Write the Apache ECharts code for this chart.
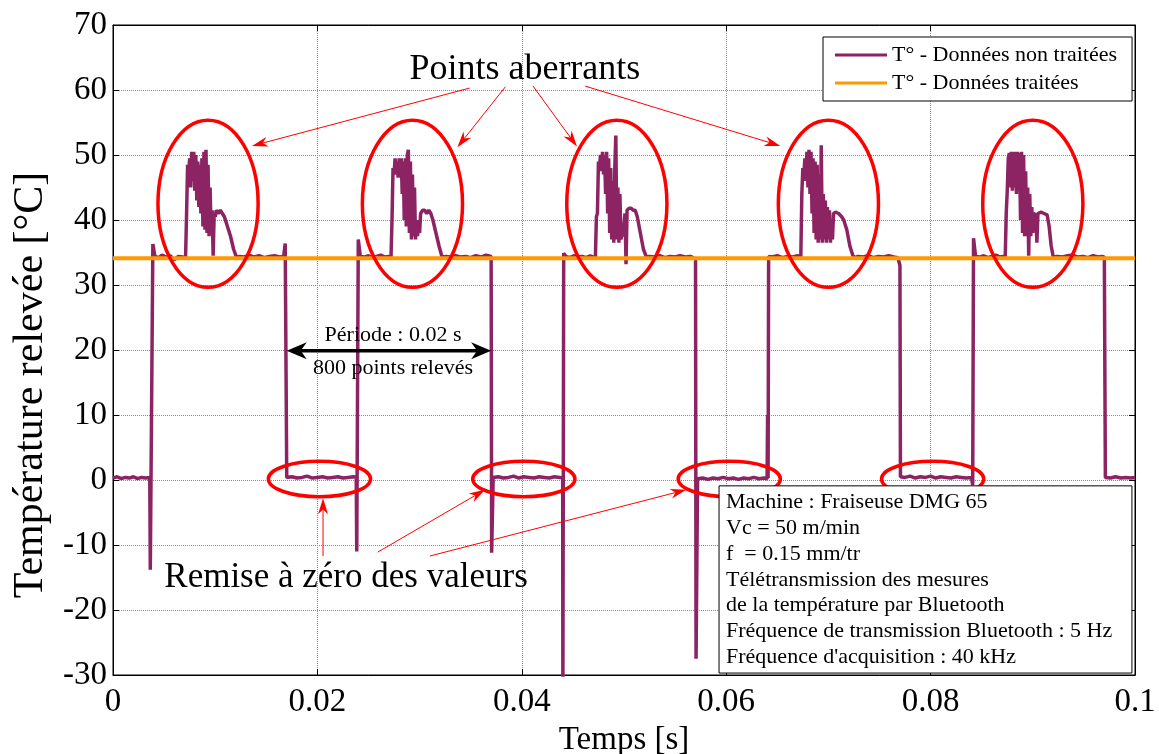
<!DOCTYPE html>
<html><head><meta charset="utf-8">
<script src="https://cdn.jsdelivr.net/npm/echarts@6/dist/echarts.min.js"></script>
<style>html,body{margin:0;padding:0;background:#fff}#c{width:1159px;height:754px}</style>
</head><body><div id="c"></div>
<script>
// ---------- DATA (time in s, temperature in °C) ----------
const xTicks = [0, 0.02, 0.04, 0.06, 0.08, 0.1];
const yTicks = [-30, -20, -10, 0, 10, 20, 30, 40, 50, 60, 70];

const lead = [[0.0000,0.3],[0.0004,0.5],[0.0008,0.2],[0.0012,0.4],[0.0016,0.3],[0.0020,0.5],[0.0024,0.2],[0.0028,0.4],[0.0032,0.3],[0.0036,0.4],[0.00365,-13.8],[0.0039,36.3],[0.0041,34.4],[0.0045,34.2],[0.0048,34.6],[0.0052,34.3],[0.0056,34.5],[0.0060,33.9],[0.0064,34.4],[0.0068,34.3]];
const burst1 = [[0.0071,34.2],[0.0072,41],[0.0073,48.5],[0.0074,47],[0.0075,49.5],[0.0076,45],[0.0077,50.5],[0.0078,46],[0.0079,50.5],[0.0080,44.5],[0.0081,50],[0.0082,43],[0.0083,49],[0.0084,42],[0.0085,48.5],[0.0086,41],[0.0087,49.5],[0.0088,39],[0.0089,50.5],[0.0090,38.5],[0.0091,50.8],[0.0092,38],[0.0093,48.5],[0.0094,37.5],[0.0095,45],[0.0096,38],[0.0097,41.5],[0.0098,34.5],[0.0099,41],[0.0100,40.5],[0.0101,41.5],[0.0103,41],[0.0105,41.5],[0.0107,41],[0.0109,40.5],[0.0112,39],[0.0115,37.5],[0.0118,35.5],[0.0121,34.2]];
const gap1 = [[0.0124,34.4],[0.0128,34.3],[0.0133,34.6],[0.0138,34.3],[0.0143,34.5],[0.0148,34.2],[0.0153,34.4],[0.0158,34.5],[0.0163,34.3],[0.0167,34.4],[0.01685,36.4],[0.0170,0.4],[0.0175,0.5],[0.0180,0.3],[0.0185,0.4],[0.0190,0.6],[0.0195,0.3],[0.0200,0.4],[0.0205,0.5],[0.0210,0.3],[0.0215,0.4],[0.0220,0.5],[0.0225,0.3],[0.0230,0.4],[0.0235,0.5],[0.0238,0.4],[0.02385,-11],[0.0240,37],[0.0242,34.4],[0.0246,34.3],[0.0250,34.5],[0.0254,34.2],[0.0258,34.4],[0.0262,34.6],[0.0266,34.3],[0.0270,34.4]];
const burst2 = [[0.0272,34.2],[0.0273,40],[0.0274,48],[0.0275,47],[0.0276,49.5],[0.0277,47],[0.0278,49],[0.0279,46.5],[0.0280,49.5],[0.0281,47],[0.0282,49.5],[0.0283,44],[0.0284,49],[0.0285,40],[0.0286,49.5],[0.0287,39],[0.0288,50],[0.0289,50.8],[0.0290,38],[0.0291,49],[0.0292,37],[0.0293,47],[0.0294,37.5],[0.0295,45],[0.0296,37],[0.0297,40],[0.0298,37.5],[0.0299,40],[0.0300,38],[0.0301,41],[0.0303,41.5],[0.0305,41.5],[0.0307,41],[0.0309,41.5],[0.0311,41],[0.0313,40],[0.0316,38],[0.0319,36],[0.0322,34.3]];
const gap2 = [[0.0326,34.4],[0.0330,34.3],[0.0335,34.5],[0.0340,34.3],[0.0345,34.4],[0.0350,34.2],[0.0355,34.5],[0.0360,34.3],[0.0365,34.6],[0.0370,34.4],[0.03705,-11.2],[0.0372,0.4],[0.0377,0.5],[0.0382,0.3],[0.0387,0.4],[0.0392,0.6],[0.0397,0.3],[0.0402,0.5],[0.0407,0.4],[0.0412,0.3],[0.0417,0.5],[0.0422,0.4],[0.0427,0.3],[0.0432,0.5],[0.0437,0.4],[0.0440,0.3],[0.04402,-33],[0.0441,34.9],[0.0443,34.4],[0.0447,34.2],[0.0451,34.5],[0.0455,34.3],[0.0459,34.4],[0.0463,34.2],[0.0467,34.5],[0.0470,34.3]];
const burst3 = [[0.0472,34.2],[0.0473,40.5],[0.0474,41],[0.0475,49],[0.0476,48],[0.0477,50],[0.0478,47.5],[0.0479,50.5],[0.0480,47],[0.0481,50],[0.0482,44],[0.0483,50.5],[0.0484,41],[0.0485,49.5],[0.0486,38],[0.0487,48],[0.0488,37],[0.0489,46],[0.0490,36.5],[0.0491,48],[0.0492,53],[0.0493,37],[0.0494,45],[0.0495,36.5],[0.0496,44],[0.0497,37],[0.0498,38],[0.0499,37.5],[0.0501,41],[0.0502,33.2],[0.0503,41.5],[0.0505,41.8],[0.0507,41.8],[0.0509,41.5],[0.0511,41.5],[0.0513,40.5],[0.0516,38],[0.0519,35.5],[0.0522,34.3]];
const gap3 = [[0.0525,34.4],[0.0530,34.3],[0.0535,34.5],[0.0540,34.2],[0.0545,34.4],[0.0550,34.3],[0.0555,34.5],[0.0560,34.3],[0.0565,34.4],[0.0570,34.0],[0.05705,-27.5],[0.0572,0.2],[0.0577,0.3],[0.0582,0.1],[0.0587,0.3],[0.0592,0.2],[0.0597,0.4],[0.0602,0.2],[0.0607,0.3],[0.0612,0.1],[0.0617,0.3],[0.0622,0.2],[0.0627,0.4],[0.0632,0.2],[0.0637,0.3],[0.0640,0.2],[0.06405,10],[0.0641,0.3],[0.06415,34.4],[0.0645,34.3],[0.0650,34.5],[0.0655,34.2],[0.0660,34.4],[0.0665,34.3],[0.0670,34.5]];
const burst4 = [[0.0673,34.2],[0.0674,44],[0.0675,48],[0.0676,47],[0.0677,49.5],[0.0678,46],[0.0679,50.5],[0.0680,45],[0.0681,50.8],[0.0682,44],[0.0683,50.5],[0.0684,41],[0.0685,49.5],[0.0686,38],[0.0687,49],[0.0688,37],[0.0689,48.5],[0.0690,36.5],[0.0691,47],[0.0692,37],[0.0693,51.5],[0.0694,36.5],[0.0695,44],[0.0696,37],[0.0697,43],[0.0698,36.5],[0.0699,42],[0.0700,37],[0.0701,41.5],[0.0702,36.5],[0.0703,40],[0.0704,37],[0.0705,41],[0.0707,41.2],[0.0710,41],[0.0713,40.5],[0.0715,40],[0.0718,38.5],[0.0721,36],[0.0724,34.5],[0.0726,34.2]];
const gap4 = [[0.0729,34.4],[0.0734,34.3],[0.0739,34.5],[0.0744,34.2],[0.0749,34.4],[0.0754,34.3],[0.0759,34.5],[0.0764,34.3],[0.0768,34.2],[0.0770,33.0],[0.07705,0.5],[0.0775,0.4],[0.0780,0.6],[0.0785,0.3],[0.0790,0.5],[0.0795,0.4],[0.0800,0.6],[0.0805,0.3],[0.0810,0.5],[0.0815,0.4],[0.0820,0.3],[0.0825,0.5],[0.0830,0.4],[0.0835,0.3],[0.0840,0.4],[0.0841,0.2],[0.08412,-0.8],[0.0842,37.2],[0.0844,34.4],[0.0848,34.3],[0.0852,34.5],[0.0856,34.2],[0.0860,34.4],[0.0864,34.6],[0.0868,34.3],[0.0871,34.4]];
const burst5 = [[0.0873,34.2],[0.0874,41],[0.0875,44.5],[0.0876,49.5],[0.0877,50.3],[0.0878,45],[0.0879,50.5],[0.0880,44.5],[0.0881,50.5],[0.0882,45],[0.0883,50.5],[0.0884,44],[0.0885,50.5],[0.0886,44.5],[0.0887,50.3],[0.0888,40],[0.0889,50.5],[0.0890,38],[0.0891,50],[0.0892,37.5],[0.0893,47.5],[0.0894,37.5],[0.0895,45],[0.0896,34.5],[0.0897,44],[0.0898,37.5],[0.0899,42],[0.0900,38],[0.0901,41],[0.0903,40.8],[0.0904,36.5],[0.0905,41],[0.0908,41.2],[0.0911,41],[0.0914,40.8],[0.0916,39],[0.0918,36],[0.0920,34.3]];
const tail = [[0.0924,34.4],[0.0929,34.3],[0.0934,34.5],[0.0939,34.6],[0.0944,34.3],[0.0949,34.4],[0.0954,34.2],[0.0959,34.5],[0.0964,34.3],[0.0968,34.4],[0.0970,34.3],[0.0971,0.4],[0.0976,0.3],[0.0981,0.5],[0.0986,0.3],[0.0991,0.4],[0.0996,0.3],[0.1000,0.4]];

const treatedTime = [0, 0.1];
const treatedTemp = [34.1, 34.1];

const seriesNames = ['T° - Données non traitées', 'T° - Données traitées'];
const infoLines = ['Machine : Fraiseuse DMG 65', 'Vc = 50 m/min', 'f  = 0.15 mm/tr', 'Télétransmission des mesures', 'de la température par Bluetooth', 'Fréquence de transmission Bluetooth : 5 Hz', "Fréquence d'acquisition : 40 kHz"];

// ---------- ANNOTATIONS (data coordinates) ----------
const bigEllipseT = [0.0093, 0.0293, 0.0493, 0.0700, 0.0900];
const bigEllipse = {v: 42.5, rt: 0.0049, rv: 12.85};
const zeroEllipseT = [0.0202, 0.0402, 0.0603, 0.0802];
const zeroEllipse = {v: 0.15, rt: 0.0050, rv: 2.72};
const aberrantArrows = [[[0.0349,60.3],[0.0136,51.4]],[[0.0384,60.5],[0.0337,51.2]],[[0.0411,60.6],[0.0454,51.3]],[[0.0462,60.6],[0.0653,51.4]]];
const resetArrows = [[[0.02055,-11.7],[0.02055,-2.8]],[[0.0259,-11.1],[0.0364,-1.5]],[[0.0310,-11.7],[0.0561,-1.5]]];
const periodArrow = [[0.0170,19.9],[0.0370,19.9]];

const rawData = [].concat(lead, burst1, gap1, burst2, gap2, burst3, gap3, burst4, gap4, burst5, tail);
const treatedData = treatedTime.map((t, i) => [t, treatedTemp[i]]);

const FONT = "'Liberation Serif','Times New Roman',serif";
const PURPLE = '#8c2363', ORANGE = '#ff9900', RED = '#ff0000';

const chart = echarts.init(document.getElementById('c'), null, {renderer: 'canvas'});
const fmtX = v => String(Math.round(v * 100) / 100);
chart.setOption({
  animation: false,
  backgroundColor: '#fff',
  grid: {left: 113, right: 24, top: 25, bottom: 79, outerBoundsMode: 'none', containLabel: false,
         show: true, borderColor: '#000', borderWidth: 1, backgroundColor: 'transparent'},
  legend: {
    data: seriesNames, orient: 'vertical', left: 823, top: 37,
    backgroundColor: '#fff', borderColor: '#000', borderWidth: 1,
    padding: [7, 15, 7, 12], itemGap: 6, itemWidth: 52, itemHeight: 3, icon: 'rect',
    textStyle: {fontFamily: FONT, fontSize: 22, color: '#000'}
  },
  xAxis: [{
    type: 'value', min: xTicks[0], max: xTicks[xTicks.length-1], interval: 0.02,
    name: 'Temps [s]', nameLocation: 'middle', nameGap: 48,
    nameTextStyle: {fontFamily: FONT, fontSize: 33, color: '#000'},
    axisLine: {show: true, onZero: false, lineStyle: {color: '#000', width: 1}},
    axisTick: {inside: true, length: 6, lineStyle: {color: '#000'}},
    axisLabel: {formatter: fmtX, fontFamily: FONT, fontSize: 33, color: '#000', margin: 11},
    splitLine: {show: true, lineStyle: {color: '#8a8a8a', type: 'dotted', width: 1}}
  }, {
    type: 'value', position: 'top', min: 0, max: 0.1, interval: 0.02,
    axisLine: {show: true, onZero: false, lineStyle: {color: '#000'}},
    axisTick: {inside: true, length: 6, lineStyle: {color: '#000'}},
    axisLabel: {show: false}, splitLine: {show: false}
  }],
  yAxis: [{
    type: 'value', min: yTicks[0], max: yTicks[yTicks.length-1], interval: 10,
    name: 'Température relevée [°C]', nameLocation: 'middle', nameGap: 60,
    nameTextStyle: {fontFamily: FONT, fontSize: 42, color: '#000', padding: [0, 70, 0, 0]},
    axisLine: {show: true, onZero: false, lineStyle: {color: '#000', width: 1}},
    axisTick: {inside: true, length: 6, lineStyle: {color: '#000'}},
    axisLabel: {fontFamily: FONT, fontSize: 33, color: '#000', margin: 6},
    splitLine: {show: true, lineStyle: {color: '#8a8a8a', type: 'dotted', width: 1}}
  }, {
    type: 'value', position: 'right', min: -30, max: 70, interval: 10,
    axisLine: {show: true, onZero: false, lineStyle: {color: '#000'}},
    axisTick: {inside: true, length: 6, lineStyle: {color: '#000'}},
    axisLabel: {show: false}, splitLine: {show: false}
  }],
  series: [{
    name: seriesNames[0], type: 'line', data: rawData, showSymbol: false, symbol: 'none',
    clip: true, lineStyle: {color: PURPLE, width: 3.5}, itemStyle: {color: PURPLE}, z: 2
  }, {
    name: seriesNames[1], type: 'line', data: treatedData, showSymbol: false, symbol: 'none',
    clip: true, lineStyle: {color: ORANGE, width: 4}, itemStyle: {color: ORANGE}, z: 3
  }]
});

// ---------- annotation graphics, positioned through the axes ----------
const P = (t, v) => chart.convertToPixel({xAxisIndex: 0, yAxisIndex: 0}, [t, v]);
function arrowHead(tail, tip, len, w, notch, color) {
  const dx = tip[0]-tail[0], dy = tip[1]-tail[1], L = Math.hypot(dx, dy);
  const ux = dx/L, uy = dy/L, px = -uy, py = ux;
  const bx = tip[0]-ux*len, by = tip[1]-uy*len;
  const nx = tip[0]-ux*len*(1-notch), ny = tip[1]-uy*len*(1-notch);
  return {type: 'polygon', z: 120, shape: {points: [tip, [bx+px*w/2, by+py*w/2], [nx, ny], [bx-px*w/2, by-py*w/2]]}, style: {fill: color}};
}
function arrowLine(a, b, color, lw, len, w, notch, both) {
  const dx = b[0]-a[0], dy = b[1]-a[1], L = Math.hypot(dx, dy), ux = dx/L, uy = dy/L;
  const cut = len*(1-notch);
  const s = both ? [a[0]+ux*cut, a[1]+uy*cut] : a;
  const e = [b[0]-ux*cut, b[1]-uy*cut];
  const els = [{type: 'line', z: 110, shape: {x1: s[0], y1: s[1], x2: e[0], y2: e[1]}, style: {stroke: color, lineWidth: lw}},
               arrowHead(a, b, len, w, notch, color)];
  if (both) els.push(arrowHead(b, a, len, w, notch, color));
  return els;
}
const g = [];
bigEllipseT.forEach(t => {
  const c = P(t, bigEllipse.v), r1 = P(t + bigEllipse.rt, bigEllipse.v), r2 = P(t, bigEllipse.v + bigEllipse.rv);
  g.push({type: 'ellipse', z: 100, shape: {cx: c[0], cy: c[1], rx: r1[0]-c[0], ry: c[1]-r2[1]}, style: {fill: 'none', stroke: RED, lineWidth: 3.5}});
});
zeroEllipseT.forEach(t => {
  const c = P(t, zeroEllipse.v), r1 = P(t + zeroEllipse.rt, zeroEllipse.v), r2 = P(t, zeroEllipse.v + zeroEllipse.rv);
  g.push({type: 'ellipse', z: 100, shape: {cx: c[0], cy: c[1], rx: r1[0]-c[0], ry: c[1]-r2[1]}, style: {fill: 'none', stroke: RED, lineWidth: 3.5}});
});
aberrantArrows.concat(resetArrows).forEach(([a, b]) => {
  arrowLine(P(a[0], a[1]), P(b[0], b[1]), RED, 1, 16, 10, 0.3, false).forEach(e => g.push(e));
});
arrowLine(P(periodArrow[0][0], periodArrow[0][1]), P(periodArrow[1][0], periodArrow[1][1]), '#000', 3.5, 20, 17, 0.3, true).forEach(e => g.push(e));

function label(t, v, text, size) {
  const p = P(t, v);
  return {type: 'text', z: 130, x: p[0], y: p[1], style: {text: text, font: size + 'px ' + FONT, fill: '#000', align: 'center', verticalAlign: 'middle'}};
}
g.push(label(0.0403, 63.1, 'Points aberrants', 36));
g.push(label(0.0228, -15.1, 'Remise à zéro des valeurs', 35));
g.push(label(0.0274, 22.3, 'Période : 0.02 s', 22));
g.push(label(0.0274, 17.2, '800 points relevés', 22));

const boxTL = P(0.0593, -0.9), boxBR = P(0.0997, -29.7);
g.push({type: 'rect', z: 125, shape: {x: boxTL[0], y: boxTL[1], width: boxBR[0]-boxTL[0], height: boxBR[1]-boxTL[1]}, style: {fill: '#fff', stroke: '#000', lineWidth: 1}});
g.push({type: 'text', z: 130, x: boxTL[0] + 7, y: boxTL[1] + 4, style: {text: infoLines.join('\n'), font: '22px ' + FONT, lineHeight: 25.7, fill: '#000', align: 'left', verticalAlign: 'top'}});

chart.setOption({graphic: g});
</script></body></html>
